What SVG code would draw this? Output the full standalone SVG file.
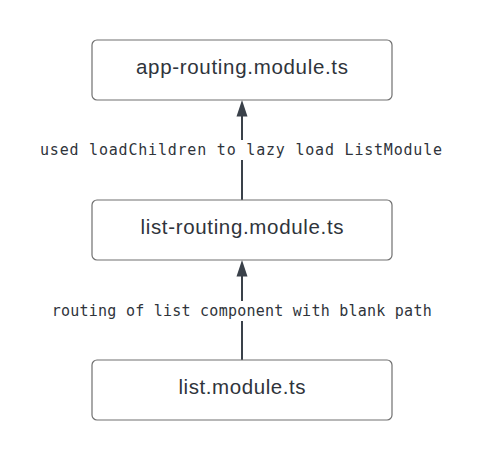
<svg xmlns="http://www.w3.org/2000/svg" width="485" height="460" viewBox="0 0 485 460">
<style>
.box{fill:#ffffff;stroke:#707070;stroke-width:1.2}
.nt{font-family:"Liberation Sans",Arial,sans-serif;font-size:20.5px;fill:#2f343b;text-anchor:middle}
.edge{stroke:#3a414a;stroke-width:2;fill:none}
.lbl{font-family:"DejaVu Sans Mono","Liberation Mono",monospace;font-size:15px;fill:#2f343b;text-anchor:middle}
.lblbg{fill:#ffffff}
</style>
<rect width="485" height="460" fill="#ffffff"/>
<g id="connectors">
<g id="edge1">
<line class="edge" x1="242" y1="200" x2="242" y2="114"/>
<path d="M236.5,116.5 L242,100 L247.5,116.5 Z" fill="#3a414a"/>
<rect class="lblbg" x="38" y="140" width="406" height="20"/>
<text class="lbl" x="241" y="155" textLength="402" lengthAdjust="spacing">used loadChildren to lazy load ListModule</text>
</g>
<g id="edge2">
<line class="edge" x1="242" y1="360" x2="242" y2="274"/>
<path d="M236.5,276.5 L242,260 L247.5,276.5 Z" fill="#3a414a"/>
<rect class="lblbg" x="50" y="301" width="384" height="20"/>
<text class="lbl" x="241.7" y="315.5" textLength="380" lengthAdjust="spacing">routing of list component with blank path</text>
</g>
</g>
<g id="node-app-routing">
<rect class="box" x="92" y="40" width="300" height="60" rx="5"/>
<text class="nt" x="242" y="74" textLength="212" lengthAdjust="spacing">app-routing.module.ts</text>
</g>
<g id="node-list-routing">
<rect class="box" x="92" y="200" width="300" height="60" rx="5"/>
<text class="nt" x="242" y="234" textLength="203" lengthAdjust="spacing">list-routing.module.ts</text>
</g>
<g id="node-list-module">
<rect class="box" x="92" y="360" width="300" height="60" rx="5"/>
<text class="nt" x="242" y="394" textLength="127" lengthAdjust="spacing">list.module.ts</text>
</g>
</svg>
